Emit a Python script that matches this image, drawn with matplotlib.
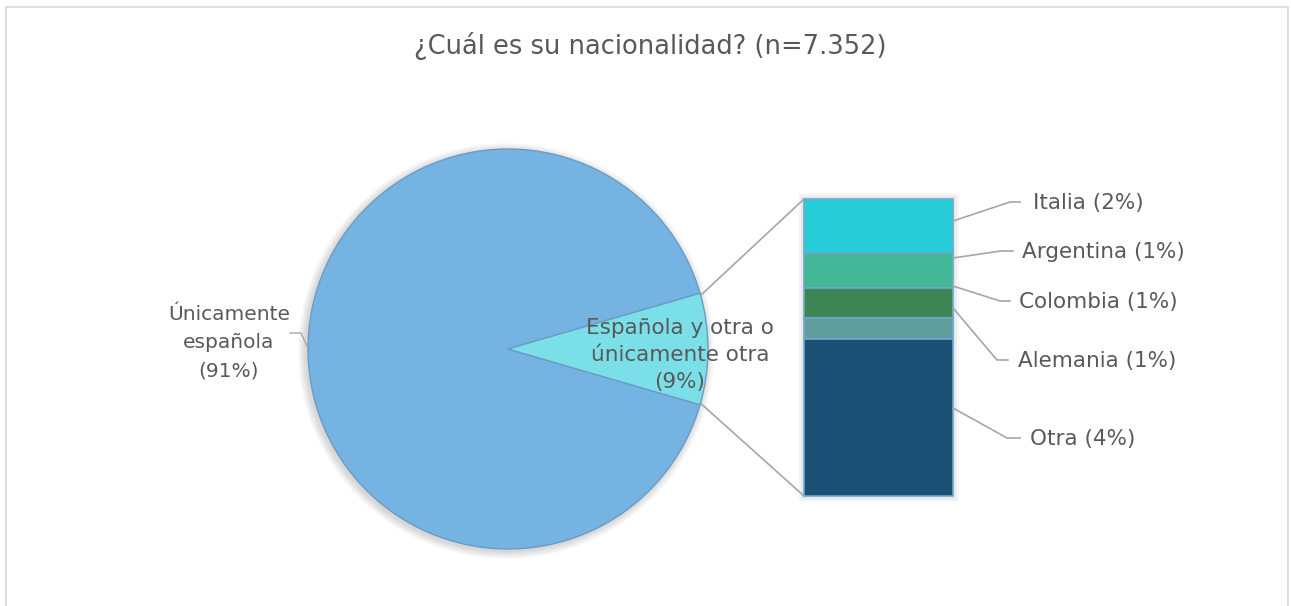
import matplotlib
matplotlib.use("Agg")
import matplotlib.pyplot as plt
from matplotlib.patches import Circle, Rectangle

# Datos de la encuesta
titulo = "¿Cuál es su nacionalidad? (n=7.352)"
pie_etiquetas = ["Únicamente\nespañola", "Española y otra o\núnicamente otra"]
pie_valores = [91, 9]
pie_colores = ["#74B3E2", "#7ADFE6"]

barra_paises = ["Italia", "Argentina", "Colombia", "Alemania", "Otra"]
barra_valores = [1.55, 1.0, 0.85, 0.6, 4.49]
barra_colores = ["#26CDD8", "#43B896", "#3D8553", "#5F9E9B", "#1B4F73"]

W, H = 1291, 606
GRIS_TXT = "#595959"
GRIS_LIN = "#A6A6A6"
FUENTE = ["DejaVu Sans"]


def Y(y):
    # coordenadas de pantalla (y hacia abajo) -> eje (y hacia arriba)
    return H - y


fig = plt.figure(figsize=(W / 100, H / 100), dpi=100)
ax = fig.add_axes([0, 0, 1, 1])

# marco del gráfico
ax.add_patch(Rectangle((6, -10), 1282, Y(7) + 10, fill=False,
                       edgecolor="#D9D9D9", lw=1.2))

ax.text(650, Y(46), titulo, ha="center", va="center", fontsize=18.5,
        color=GRIS_TXT, family=FUENTE)

# --- tarta principal ---
cx, cy, R = 508, Y(349), 200
for k in range(1, 9):
    ax.add_patch(Circle((cx - 2, cy - 2), R + k, color="#000000",
                        alpha=0.018, lw=0, zorder=1))
medio = pie_valores[1] / sum(pie_valores) * 180
wedges, _ = ax.pie(pie_valores, colors=pie_colores, center=(cx, cy), radius=R,
                   startangle=medio, counterclock=True, frame=True,
                   wedgeprops=dict(edgecolor="#6A9CC4", linewidth=1.0))
for w in wedges:
    w.set_zorder(2)
ax.set_xlim(0, W)
ax.set_ylim(0, H)
ax.set_aspect("equal")
ax.axis("off")

ax.text(229, Y(343), f"{pie_etiquetas[0]}\n({pie_valores[0]}%)", ha="center",
        va="center", fontsize=14.5, color=GRIS_TXT, family=FUENTE,
        linespacing=1.6, zorder=5)
ax.plot([290, 301, 307], [Y(333), Y(333), Y(346)], color=GRIS_LIN, lw=1.0,
        zorder=4)
ax.text(680, Y(355), f"{pie_etiquetas[1]}\n({pie_valores[1]}%)", ha="center",
        va="center", fontsize=15.5, color=GRIS_TXT, family=FUENTE,
        linespacing=1.45, zorder=5)

# --- barra de desglose ---
bx0, bx1, by_top, by_bot = 804, 953, Y(199), Y(496)
alto = by_top - by_bot
total = sum(barra_valores)
for k in range(1, 7):
    ax.add_patch(Rectangle((bx0 - k, by_bot - k), bx1 - bx0 + 2 * k,
                           alto + 2 * k, color="#000000", alpha=0.02, lw=0,
                           zorder=1))
alturas = [v / total * alto for v in barra_valores]
base = by_top
for h, c in zip(alturas, barra_colores):
    base -= h
    ax.bar(bx0, h, width=bx1 - bx0, bottom=base, align="edge", color=c,
           edgecolor="#6FA8D0", linewidth=1.2, zorder=3)

# líneas de conexión tarta -> barra
ax.plot([700, bx0], [Y(296), by_top], color=GRIS_LIN, lw=1.2, zorder=1.5)
ax.plot([698, bx0], [Y(401), by_bot], color=GRIS_LIN, lw=1.2, zorder=1.5)

# etiquetas de la barra con líneas guía
puntos = [(221, 1010, 202, 1020, 1088), (258, 1001, 251, 1013, 1103),
          (286, 1000, 301, 1010, 1098), (308, 997, 360, 1008, 1097),
          (408, 1007, 438, 1020, 1083)]
for pais, v, (y0, xm, ym, xe, xt) in zip(barra_paises, barra_valores, puntos):
    ax.plot([bx1, xm, xe], [Y(y0), Y(ym), Y(ym)], color=GRIS_LIN, lw=1.2,
            zorder=4)
    ax.text(xt, Y(ym + 1), f"{pais} ({v:.0f}%)", ha="center", va="center",
            fontsize=15.5, color=GRIS_TXT, family=FUENTE, zorder=5)

fig.savefig("out.png", dpi=100)
